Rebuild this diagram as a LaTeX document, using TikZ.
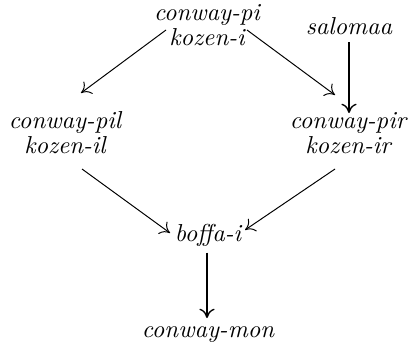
\documentclass[tikz,border=0pt]{standalone}
\usetikzlibrary{arrows.meta}
\begin{document}
\begin{tikzpicture}[x=0.408pt,y=-0.408pt,
  lbl/.style={font=\itshape,inner sep=0pt,anchor=base,align=center},
  arr/.style={-{To[length=3.8pt,width=6.2pt]},line width=0.4pt},
  varr/.style={arr,line width=0.55pt}]
\useasboundingbox (0,0) rectangle (411,344);
\node[lbl] (pi) at (207,45) {conway-pi\\[-2.2pt]kozen-i};
\node[lbl] (salomaa) at (349,34.3) {salomaa};
\node[lbl] (pil) at (65,153) {conway-pil\\[-2.2pt]kozen-il};
\node[lbl] (pir) at (348,153) {conway-pir\\[-2.2pt]kozen-ir};
\node[lbl] (boffa) at (208,241.7) {boffa-i};
\node[lbl] (mon) at (208,337) {conway-mon};
\draw[arr] ([shift={(-41,-15)}]pi.base) -- ([shift={(16,-60)}]pil.base);
\draw[arr] ([shift={(40,-15)}]pi.base) -- ([shift={(-13,-58)}]pir.base);
\draw[varr] ([shift={(0,8)}]salomaa.base) -- ([shift={(1,-40)}]pir.base);
\draw[arr] ([shift={(17,16)}]pil.base) -- ([shift={(-38,-8.7)}]boffa.base);
\draw[arr] ([shift={(-13,16)}]pir.base) -- ([shift={(37,-11.7)}]boffa.base);
\draw[varr] ([shift={(-1,11)}]boffa.base) -- ([shift={(-1,-19)}]mon.base);
\end{tikzpicture}
\end{document}
